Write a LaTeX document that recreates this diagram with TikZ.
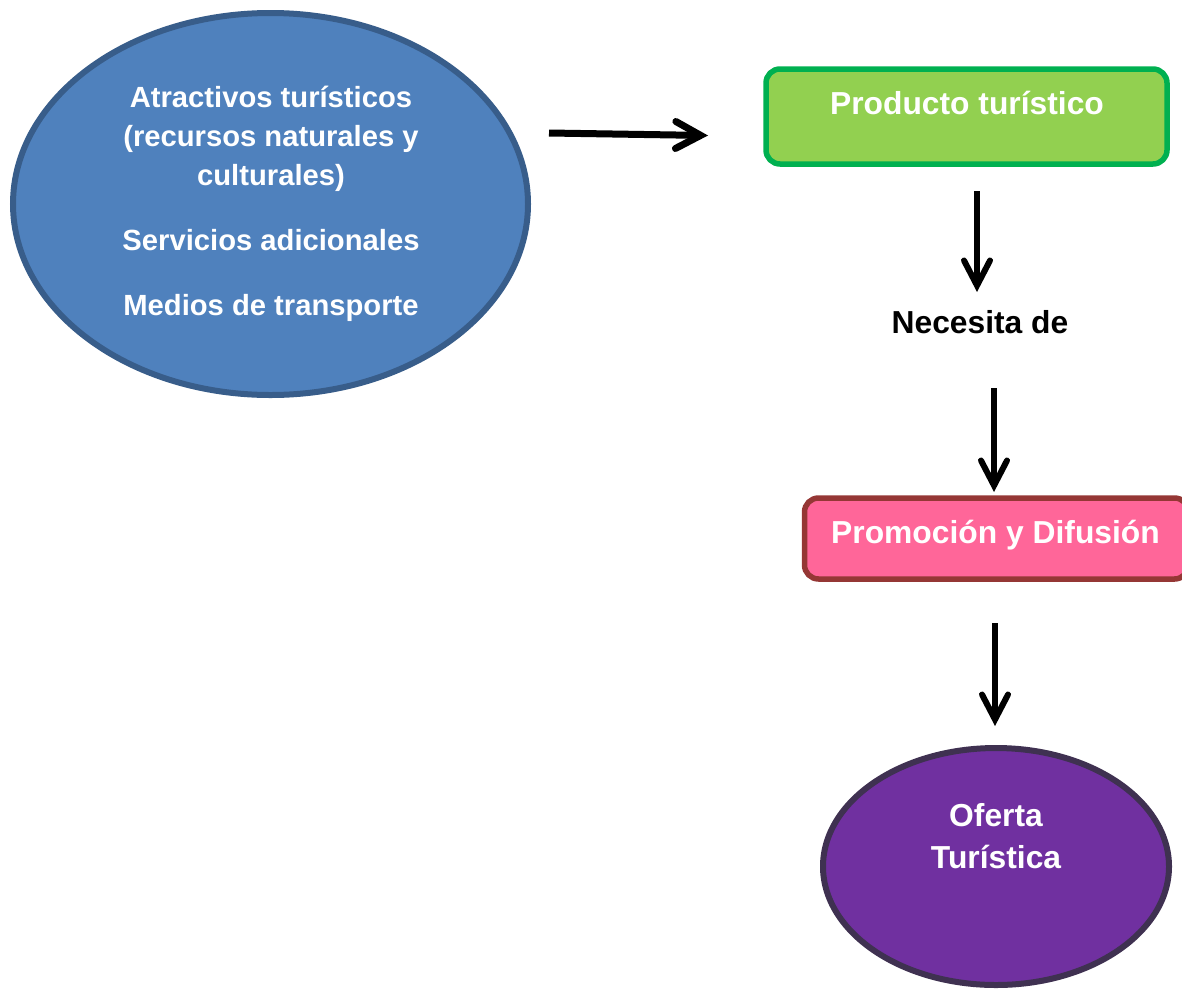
\documentclass[tikz,border=0pt]{standalone}
\usepackage{fontspec}
\setmainfont{Liberation Sans}
\usetikzlibrary{shapes.geometric,arrows.meta}
\definecolor{bluefill}{HTML}{4F81BD}
\definecolor{blueline}{HTML}{385D8A}
\definecolor{greenfill}{HTML}{92D050}
\definecolor{greenline}{HTML}{00B050}
\definecolor{pinkfill}{HTML}{FF6699}
\definecolor{pinkline}{HTML}{953735}
\definecolor{purplefill}{HTML}{7030A0}
\definecolor{purpleline}{HTML}{3F3151}
\begin{document}
\begin{tikzpicture}[x=1pt,y=-1pt,
  oval/.style={ellipse, draw, line width=6pt, inner sep=0pt},
  rbox/.style={rectangle, rounded corners=14pt, draw, line width=5.5pt, inner sep=0pt},
  wtxt/.style={anchor=base, text=white, font=\bfseries\fontsize{31.8}{37}\selectfont, inner sep=0pt},
  wsmall/.style={anchor=base, text=white, font=\bfseries\fontsize{29.2}{35}\selectfont, inner sep=0pt},
  btxt/.style={anchor=base, text=black, font=\bfseries\fontsize{31.8}{37}\selectfont, inner sep=0pt},
  harrow/.style={line width=7pt, -{Straight Barb[length=25pt,width=27pt,line cap=round]}},
  varrow/.style={line width=6pt, -{Straight Barb[length=25pt,width=26pt,line cap=round]}}
]
\useasboundingbox (0,0) rectangle (1182,991);
% shapes
\node[oval, fill=bluefill, draw=blueline, minimum width=515pt, minimum height=382pt] (rec) at (270.5,204) {};
\node[rbox, fill=greenfill, draw=greenline, minimum width=401pt, minimum height=95pt] (prod) at (966.5,116.5) {};
\node[rbox, fill=pinkfill, draw=pinkline, minimum width=384pt, minimum height=81pt] (prom) at (996.5,538.5) {};
\node[oval, fill=purplefill, draw=purpleline, minimum width=346pt, minimum height=237pt] (ofe) at (996,866.5) {};
% texts
\node[wsmall] (t1) at (271,107.5) {Atractivos turísticos};
\node[wsmall] (t2) at (271,146.5) {(recursos naturales y};
\node[wsmall] (t3) at (271,185.5) {culturales)};
\node[wsmall] (t4) at (271,250.5) {Servicios adicionales};
\node[wsmall] (t5) at (271,315.5) {Medios de transporte};
\node[wtxt] (tp) at (967,114) {Producto turístico};
\node[btxt] (nec) at (980,333) {Necesita de};
\node[wtxt] (tpr) at (995.5,543) {Promoción y Difusión};
\node[wtxt] (to1) at (996,826) {Oferta};
\node[wtxt] (to2) at (996,868) {Turística};
% connector endpoints
\coordinate (a1s) at (549,133);
\coordinate (a1e) at (708,135.5);
\coordinate (a2s) at (977,191);
\coordinate (a2e) at (977,292);
\coordinate (a3s) at (994,388);
\coordinate (a3e) at (994,492);
\coordinate (a4s) at (995,623);
\coordinate (a4e) at (995,726);
\draw[harrow] (a1s) -- (a1e);
\draw[varrow] (a2s) -- (a2e);
\draw[varrow] (a3s) -- (a3e);
\draw[varrow] (a4s) -- (a4e);
\end{tikzpicture}
\end{document}
